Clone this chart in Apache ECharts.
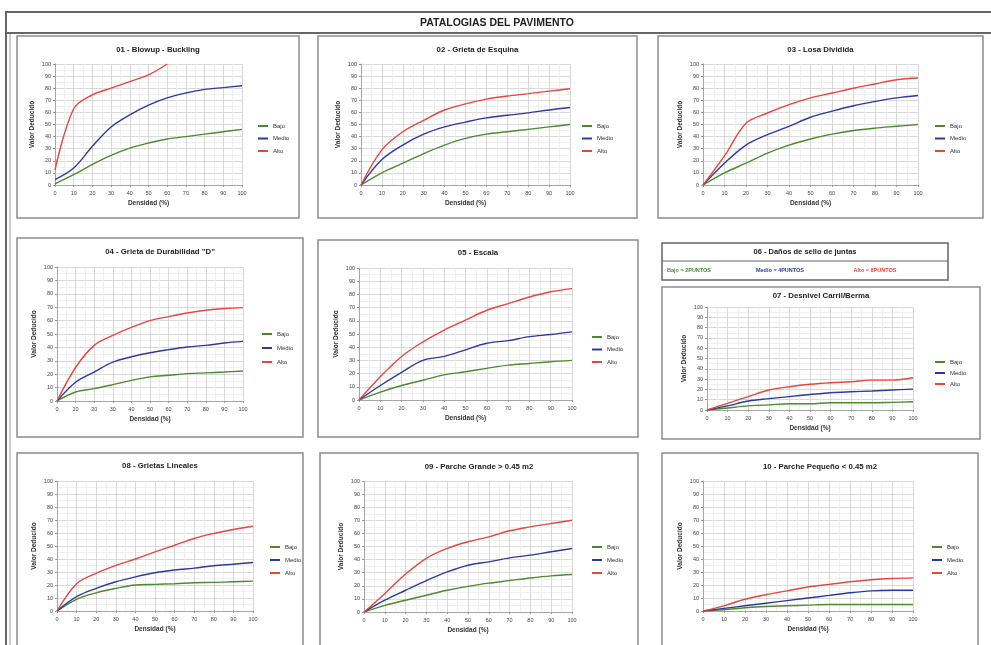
<!DOCTYPE html>
<html><head><meta charset="utf-8">
<script src="https://cdn.jsdelivr.net/npm/echarts@6/dist/echarts.min.js"></script>
<style>html,body{margin:0;padding:0;background:#fff}#c{width:991px;height:645px}</style>
</head><body><div id="c"></div>
<script>
// ---------- DATA ----------
const densidad = [0,10,20,30,40,50,60,70,80,90,100];
const seriesNames = ['Bajo','Medio','Alto'];
const yAxisName = 'Valor Deducido';
const xAxisName = 'Densidad (%)';
const mainTitle = 'PATALOGIAS DEL PAVIMENTO';

const p01Bajo  = [1,8.5,17,24.5,30.5,34.7,38,40,42,44,46];
const p01Medio = [4.5,14,32,48,58,66,72,76,79,80.5,82];
const p01Alto  = [12.5,63,74.5,80,85.5,91,100];

const p02Bajo  = [0,10,18,26,33,38.5,42,44,46,48,50];
const p02Medio = [0,21,33,42,48,52,55.5,57.6,59.6,62,64];
const p02Alto  = [0,29,44,53.5,62,67,71,73.5,75.5,77.6,79.5];

const p03Bajo  = [0,10,18,26.4,33,38,42,45,47,48.5,50];
const p03Medio = [0,18,33,41.6,48.5,56,61,65.5,69,72,74];
const p03Alto  = [0,24,51,59.5,66.4,72,76,80,83.5,87,88.4];

const p04Bajo  = [0,6.7,9.2,12.2,15.4,18,19.2,20.4,21,21.6,22.4];
const p04Medio = [0,14,21.6,29,33,36,38.3,40.3,41.5,43.3,44.5];
const p04Alto  = [0,25,41.5,49,55,60,63,65.7,67.7,69,69.7];

const p05Bajo  = [0,6,11,15,19,21.4,24,26.4,27.7,29,30];
const p05Medio = [0,11,21,30,33,38,43,45,48,49.6,51.6];
const p05Alto  = [0,17.6,33,44,53,60.5,68,73,78,82,84.4];

const p07Bajo  = [0,2,4,5,6,6,7,7,7,7.4,8];
const p07Medio = [0,4,8.7,11,13,15,16.8,17.7,18.4,19.4,20.3];
const p07Alto  = [0,6.5,13,19.4,22.6,25,26.5,27.4,29,29,31.3];

const p08Bajo  = [0,9,14,17.4,20,20.5,21,21.7,22,22.5,23];
const p08Medio = [0,11,17.4,22.5,26.3,29.4,31.5,33,34.8,36,37.3];
const p08Alto  = [0,21,29,35,40,45.5,50.6,55.8,59.6,62.7,65.2];

const p09Bajo  = [0,5,9,12.8,16.6,19.6,22,24,26,27.6,28.6];
const p09Medio = [0,9,16.6,24,30.6,35.7,38.3,41.3,43.4,46,48.5];
const p09Alto  = [0,14,29,41,48.5,53.6,57.4,62,65,67.6,70];

const p10Bajo  = [0,1,2.5,3.5,4,4.5,5,5,5,5,5];
const p10Medio = [0,2,4,6,8,10,12,14,15.5,16,16];
const p10Alto  = [0,4,9,12.5,15.5,18.5,20.5,22.5,24,25,25.5];

const juntasTitle = '06 - Daños de sello de juntas';
const juntasLabels = ['Bajo = 2PUNTOS','Medio = 4PUNTOS','Alto = 8PUNTOS'];

const panelTitles = ['01 - Blowup - Buckling','02 - Grieta de Esquina','03 - Losa Dividida',
  '04 - Grieta de Durabilidad "D"','05 - Escala','07 - Desnivel Carril/Berma',
  '08 - Grietas Lineales','09 - Parche Grande > 0.45 m2','10 - Parche Pequeño < 0.45 m2'];
const panelData = [
  [p01Bajo,p01Medio,p01Alto],[p02Bajo,p02Medio,p02Alto],[p03Bajo,p03Medio,p03Alto],
  [p04Bajo,p04Medio,p04Alto],[p05Bajo,p05Medio,p05Alto],[p07Bajo,p07Medio,p07Alto],
  [p08Bajo,p08Medio,p08Alto],[p09Bajo,p09Medio,p09Alto],[p10Bajo,p10Medio,p10Alto]];

// ---------- LAYOUT / STYLE ----------
const colors = ['#4d8a2e','#2c3aa0','#e8453c'];
const layout = [
  {box:[17,36,282,182], ty:50,  g:[55,64,187,121],  lg:[258,122,4.5]},
  {box:[318,36,319,182], ty:50, g:[361,64,209,121], lg:[582,122,4.5]},
  {box:[658,36,325,182], ty:50, g:[703,64,215,121], lg:[935,122,4.5]},
  {box:[17,238,286,199], ty:252, g:[57,267,186,134], lg:[262,330,6]},
  {box:[318,240,320,197], ty:253, g:[359,268,213,132], lg:[592,333,4.5]},
  {box:[662,287,318,152], ty:296, g:[707,307,206,103], lg:[935,358,3]},
  {box:[17,453,286,200], ty:466, g:[57,481,196,130], lg:[270,543,5]},
  {box:[320,453,318,200], ty:467, g:[364,481,208,131], lg:[592,543,5]},
  {box:[662,453,316,200], ty:467, g:[703,481,210,130], lg:[932,543,5]}
];
const FONT = 'Liberation Sans, Arial, sans-serif';

const grids=[], xAxes=[], yAxes=[], series=[], legends=[], graphics=[];

// outer frame
graphics.push({type:'rect', shape:{x:6,y:12,width:1000,height:700}, style:{fill:null, stroke:'#666', lineWidth:2}});
graphics.push({type:'line', shape:{x1:10,y1:33,x2:10,y2:700}, style:{stroke:'#999', lineWidth:1}});
graphics.push({type:'line', shape:{x1:6,y1:33,x2:991,y2:33}, style:{stroke:'#666', lineWidth:2}});
graphics.push({type:'text', x:497, y:23, style:{text:mainTitle, font:'bold 10.5px '+FONT, fill:'#222', textAlign:'center', textVerticalAlign:'middle'}});

layout.forEach((L,i)=>{
  const [bx,by,bw,bh]=L.box;
  graphics.push({type:'rect', shape:{x:bx,y:by,width:bw,height:bh}, style:{fill:null, stroke:'#8c8c8c', lineWidth:1.5}});
  graphics.push({type:'text', x:bx+bw/2, y:L.ty, style:{text:panelTitles[i], font:'bold 7.8px '+FONT, fill:'#222', textAlign:'center', textVerticalAlign:'middle'}});
  const [gl,gt,gw,gh]=L.g;
  grids.push({left:gl, top:gt, width:gw, height:gh, containLabel:false});
  xAxes.push({gridIndex:i, type:'value', min:0, max:100, interval:10,
    name:xAxisName, nameLocation:'middle', nameGap:15,
    nameTextStyle:{fontSize:6.5, fontWeight:'bold', color:'#333', fontFamily:FONT},
    axisLabel:{fontSize:5.5, color:'#444', margin:5, fontFamily:FONT},
    axisLine:{lineStyle:{color:'#999', width:0.8}},
    axisTick:{show:true, length:2, lineStyle:{color:'#999'}},
    splitLine:{show:true, lineStyle:{color:'#cfcfcf', width:0.8}},
    minorTick:{show:false, splitNumber:2},
    minorSplitLine:{show:true, lineStyle:{color:'#ececec', width:0.8}}});
  yAxes.push({gridIndex:i, type:'value', min:0, max:100, interval:10,
    name:yAxisName, nameLocation:'middle', nameGap:19, nameRotate:90,
    nameTextStyle:{fontSize:6.5, fontWeight:'bold', color:'#333', fontFamily:FONT},
    axisLabel:{fontSize:5.5, color:'#444', margin:4, fontFamily:FONT},
    axisLine:{show:true, lineStyle:{color:'#999', width:0.8}},
    axisTick:{show:true, length:2, lineStyle:{color:'#999'}},
    splitLine:{show:true, lineStyle:{color:'#cfcfcf', width:0.8}},
    minorTick:{show:false, splitNumber:2},
    minorSplitLine:{show:true, lineStyle:{color:'#ececec', width:0.8}}});
  panelData[i].forEach((arr,k)=>{
    series.push({type:'line', name:seriesNames[k], xAxisIndex:i, yAxisIndex:i,
      data:arr.map((v,j)=>[densidad[j],v]), smooth:0.35, showSymbol:false, symbol:'none',
      lineStyle:{width:1.4, color:colors[k]}, itemStyle:{color:colors[k]}, z:3});
  });
  legends.push({data:seriesNames, orient:'vertical', left:L.lg[0], top:L.lg[1], itemGap:L.lg[2],
    itemWidth:10, itemHeight:2, icon:'rect', padding:0, selectedMode:false,
    textStyle:{fontSize:6, color:'#333', lineHeight:8, fontFamily:FONT}});
});

// 06 box
graphics.push({type:'rect', shape:{x:662,y:243,width:286,height:37}, style:{fill:null, stroke:'#666', lineWidth:1.5}});
graphics.push({type:'line', shape:{x1:662,y1:261,x2:948,y2:261}, style:{stroke:'#666', lineWidth:1}});
graphics.push({type:'text', x:805, y:252, style:{text:juntasTitle, font:'bold 7.5px '+FONT, fill:'#222', textAlign:'center', textVerticalAlign:'middle'}});
const jx=[689,780,875];
juntasLabels.forEach((t,k)=>{
  graphics.push({type:'text', x:jx[k], y:270.5, style:{text:t, font:'bold 5.5px '+FONT, fill:colors[k], textAlign:'center', textVerticalAlign:'middle'}});
});

const chart = echarts.init(document.getElementById('c'), null, {renderer:'canvas'});
chart.setOption({
  animation:false, backgroundColor:'#fff',
  grid:grids, xAxis:xAxes, yAxis:yAxes, series:series, legend:legends,
  graphic:{elements:graphics}
});
</script></body></html>
